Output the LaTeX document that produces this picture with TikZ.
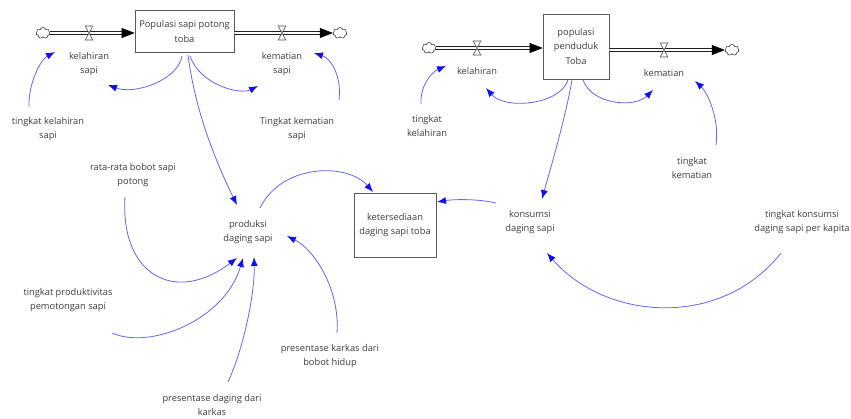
\documentclass[tikz,border=0pt]{standalone}
\usepackage{fontspec}
\setmainfont{Open Sans}
\usetikzlibrary{arrows.meta,shapes.symbols}
\definecolor{linkc}{RGB}{100,100,245}
\definecolor{headc}{RGB}{15,15,240}
\definecolor{txtc}{RGB}{60,60,60}
\tikzset{valve/.pic={\draw[black!70, line width=0.6pt, fill=white] (-3.8,-7) -- (3.8,-7) -- (-3.8,7) -- (3.8,7) -- cycle;}}
\begin{document}
\begin{tikzpicture}[x=1pt,y=-1pt,
 lbl/.style={font=\fontsize{9.3}{14.5}\selectfont, align=center, text=txtc, inner sep=1pt},
 stockbox/.style={draw=black!65, line width=0.8pt, fill=white, align=center, font=\fontsize{9.3}{14.5}\selectfont, text=txtc, inner sep=2pt},
 link/.style={draw=linkc, line width=0.8pt, -{Latex[length=9pt,width=7pt,color=headc,fill=headc]}},
 pipe/.style={draw=black, line width=0.6pt, double=white, double distance=2.4pt},
 pipehead/.style={draw=black, line width=0.5pt, -{Triangle[length=13pt,width=10pt,fill=black]}},
 cloudn/.style={cloud, draw=black!80, cloud puffs=7, aspect=1.3, minimum width=14pt, minimum height=11pt, inner sep=0pt, fill=white, line width=0.6pt},
]
\useasboundingbox (0,0) rectangle (851,418);

% stocks
\node[stockbox, minimum width=99pt, minimum height=42pt] (s1) at (184.5,31.5) {Populasi sapi potong\\toba};
\node[stockbox, minimum width=66pt, minimum height=65pt] (s2) at (576,46.5) {populasi\\penduduk\\Toba};
\node[stockbox, minimum width=82pt, minimum height=64pt] (ket) at (395,225) {ketersediaan\\daging sapi toba};

% clouds
\node[cloudn] (c1) at (43,33) {};
\node[cloudn] (c2) at (340,33) {};
\node[cloudn] (c3) at (429,48) {};
\node[cloudn] (c4) at (732,50) {};

% pipes
\coordinate (p1) at (s1.west |- c1);
\coordinate (p2) at (s1.east |- c2);
\coordinate (p3) at (s2.west |- c3);
\coordinate (p4) at (s2.east |- c4);
\draw[pipe] (c1) -- ([xshift=-12pt]p1);
\draw[pipehead] ([xshift=-13pt]p1) -- (p1);
\draw[pipe] (p2) -- ([xshift=-12pt]c2.west);
\draw[pipehead] ([xshift=-13pt]c2.west) -- (c2.west);
\draw[pipe] (c3) -- ([xshift=-12pt]p3);
\draw[pipehead] ([xshift=-13pt]p3) -- (p3);
\draw[pipe] (p4) -- ([xshift=-12pt]c4.west);
\draw[pipehead] ([xshift=-13pt]c4.west) -- (c4.west);

% valves
\coordinate (v1) at (89,33);
\coordinate (v2) at (282,33);
\coordinate (v3) at (477,48);
\coordinate (v4) at (664,50);
\pic at (v1) {valve};
\pic at (v2) {valve};
\pic at (v3) {valve};
\pic at (v4) {valve};

% labels
\node[lbl] (kls) at (89,64) {kelahiran\\sapi};
\node[lbl] (kms) at (282,64) {kematian\\sapi};
\node[lbl] (tkls) at (48,129) {tingkat kelahiran\\sapi};
\node[lbl] (tkms) at (297,129) {Tingkat kematian\\sapi};
\node[lbl] (kl) at (477,71) {kelahiran};
\node[lbl] (km) at (664,73) {kematian};
\node[lbl] (tkl) at (427,126) {tingkat\\kelahiran};
\node[lbl] (tkm) at (692,168) {tingkat\\kematian};
\node[lbl] (kons) at (530,222) {konsumsi\\daging sapi};
\node[lbl] (tkk) at (802,222) {tingkat konsumsi\\daging sapi per kapita};
\node[lbl] (prod) at (248,232) {produksi\\daging sapi};
\node[lbl] (rr) at (133,175) {rata-rata bobot sapi\\potong};
\node[lbl] (tp) at (68,300) {tingkat produktivitas\\pemotongan sapi};
\node[lbl] (pd) at (212,405) {presentase daging dari\\karkas};
\node[lbl] (pk) at (330,356) {presentase karkas dari\\bobot hidup};

% links
\draw[link] ([shift={(-19,-22)}]tkls.center) .. controls (28,85) and (40,60) .. ([shift={(-34,-12)}]kls.center);
\draw[link] ([shift={(-2.5,24.5)}]s1.center) .. controls (178,80) and (135,95) .. ([shift={(19,21)}]kls.center);
\draw[link] ([shift={(5.5,24.5)}]s1.center) .. controls (200,85) and (240,95) .. ([shift={(-24,22)}]kms.center);
\draw[link] ([shift={(42,-29)}]tkms.center) .. controls (342,75) and (330,58) .. ([shift={(32,-11)}]kms.center);
\draw[link] ([shift={(3.5,23.5)}]s1.center) .. controls (195,110) and (215,160) .. ([shift={(-11,-27)}]prod.center);
\draw[link] ([shift={(-8,33.5)}]s2.center) .. controls (560,105) and (505,110) .. ([shift={(9,17)}]kl.center);
\draw[link] ([shift={(7,33.5)}]s2.center) .. controls (592,105) and (635,108) .. ([shift={(-11,17)}]km.center);
\draw[link] ([shift={(24,-23)}]tkm.center) .. controls (720,115) and (705,90) .. ([shift={(31,8)}]km.center);
\draw[link] ([shift={(-6,-22)}]tkl.center) .. controls (420,85) and (432,72) .. ([shift={(-31,-5)}]kl.center);
\draw[link] ([shift={(-4,33.5)}]s2.center) .. controls (565,120) and (550,170) .. ([shift={(12,-23)}]kons.center);
\draw[link] ([shift={(-34,-19)}]kons.center) .. controls (480,199) and (455,199) .. ([shift={(42,-23)}]ket.center);
\draw[link] ([shift={(-21,31)}]tkk.center) .. controls (720,330) and (605,320) .. ([shift={(17,31)}]kons.center);
\draw[link] ([shift={(-8,22)}]rr.center) .. controls (120,275) and (175,305) .. ([shift={(-11,26)}]prod.center);
\draw[link] ([shift={(44,33)}]tp.center) .. controls (150,350) and (225,320) .. ([shift={(-5,26)}]prod.center);
\draw[link] ([shift={(16,-23)}]pd.center) .. controls (245,345) and (255,290) .. ([shift={(6,25)}]prod.center);
\draw[link] ([shift={(7,-23)}]pk.center) .. controls (340,290) and (315,250) .. ([shift={(39,4)}]prod.center);
\draw[link] ([shift={(12,-24)}]prod.center) .. controls (282,163) and (348,163) .. ([shift={(-22,-33)}]ket.center);
\end{tikzpicture}
\end{document}
